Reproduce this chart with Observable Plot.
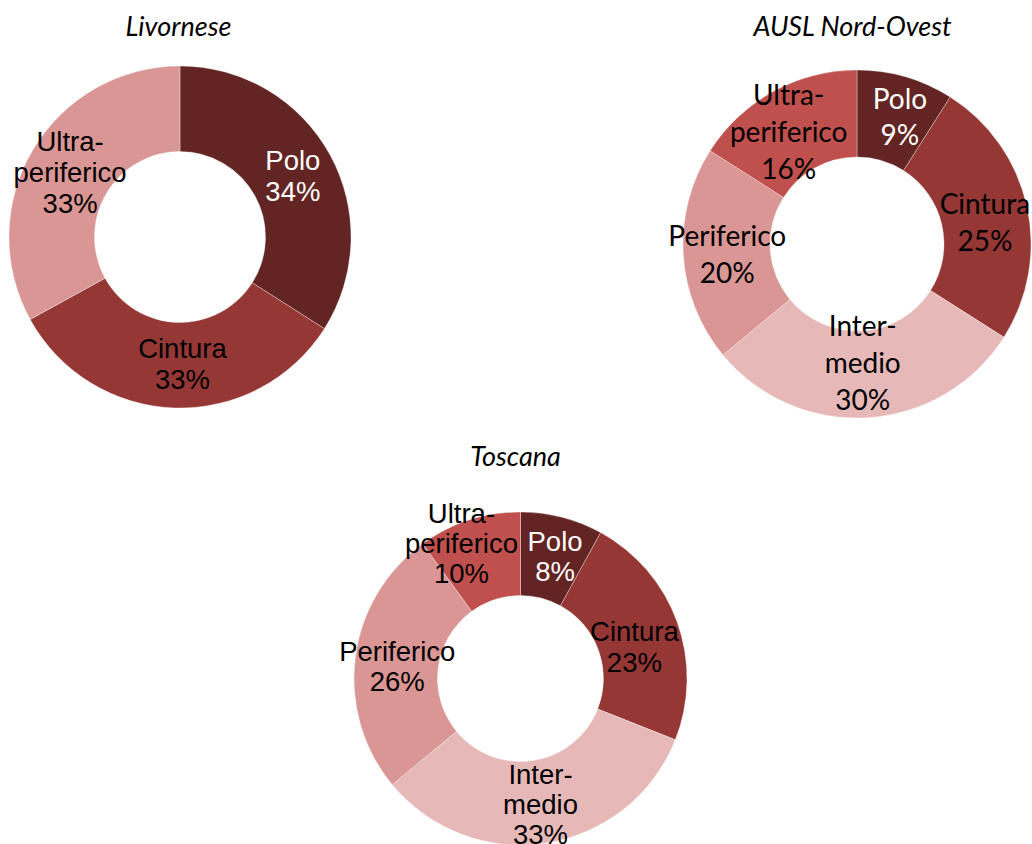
<!DOCTYPE html>
<html><head><meta charset="utf-8">
<script src="https://cdn.jsdelivr.net/npm/d3@7"></script>
<script src="https://cdn.jsdelivr.net/npm/@observablehq/plot@0.6"></script>
<style>body{margin:0;background:#fff}#chart svg{display:block}</style>
</head><body><div id="chart"></div>
<script>
// ---- data ----
const livorneseCategories = ["Polo", "Cintura", "Ultra-periferico"];
const livorneseValues = [34, 33, 33];
const auslCategories = ["Polo", "Cintura", "Intermedio", "Periferico", "Ultra-periferico"];
const auslValues = [9, 25, 30, 20, 16];
const toscanaCategories = ["Polo", "Cintura", "Intermedio", "Periferico", "Ultra-periferico"];
const toscanaValues = [8, 23, 33, 26, 10];
const labelNames = {
  "Polo": "Polo",
  "Cintura": "Cintura",
  "Intermedio": "Inter-\nmedio",
  "Periferico": "Periferico",
  "Ultra-periferico": "Ultra-\nperiferico"
};

// ---- styles ----
const palette = {Polo: "#632523", Cintura: "#953735", Intermedio: "#E6B9B8", Periferico: "#D99694", "Ultra-periferico": "#C0504D"};
const livornesePalette = {Polo: "#632523", Cintura: "#953735", "Ultra-periferico": "#D99694"};
const W = 1032, H = 844;

const charts = [
  {title: "Livornese", cats: livorneseCategories, vals: livorneseValues, pal: livornesePalette,
   cx: 180, cy: 237, ro: 171, ri: 85.5, font: "Liberation Sans, Arial, sans-serif", fs: 27.5, lh: 1.13, tx: 178, ty: 27,
   nudge: {"Cintura": [6, -2]}},
  {title: "AUSL Nord-Ovest", cats: auslCategories, vals: auslValues, pal: palette,
   cx: 857, cy: 244, ro: 174, ri: 87, font: "Lato, sans-serif", fs: 28, lh: 1.32, tx: 852, ty: 27,
   nudge: {"Polo": [6, -4], "Cintura": [0, 5], "Intermedio": [-3, -14], "Ultra-periferico": [-6, 0]}},
  {title: "Toscana", cats: toscanaCategories, vals: toscanaValues, pal: palette,
   cx: 520.5, cy: 678.5, ro: 166.5, ri: 83, font: "Liberation Sans, Arial, sans-serif", fs: 27.5, lh: 1.1, tx: 515, ty: 457,
   nudge: {"Polo": [3, -2], "Cintura": [-4, 10], "Intermedio": [0, 2], "Periferico": [0, 3], "Ultra-periferico": [-21, -17]}}
];

const pie = d3.pie().sort(null).value(d => d.value);
charts.forEach(c => {
  c.rows = c.cats.map((cat, i) => ({cat, value: c.vals[i]}));
  c.arcs = pie(c.rows);
  const rm = (c.ro + c.ri) / 2;
  c.labels = c.arcs.map(a => {
    const m = (a.startAngle + a.endAngle) / 2;
    const [nx, ny] = c.nudge[a.data.cat] || [0, 0];
    return {
      x: c.cx + rm * Math.sin(m) + nx,
      y: c.cy - rm * Math.cos(m) + ny,
      text: labelNames[a.data.cat] + "\n" + a.data.value + "%",
      color: a.data.cat === "Polo" ? "white" : "black"
    };
  });
});

function donutMark(c) {
  return (index, scales) => {
    const cx = scales.x(c.cx), cy = scales.y(c.cy);
    const k = Math.abs(scales.x(c.cx + 1) - scales.x(c.cx));
    const arc = d3.arc().innerRadius(c.ri * k).outerRadius(c.ro * k);
    const g = d3.create("svg:g").attr("transform", `translate(${cx},${cy})`);
    g.selectAll("path").data(c.arcs).join("path")
      .attr("d", arc)
      .attr("fill", d => c.pal[d.data.cat])
      .attr("stroke", "#ffffff")
      .attr("stroke-width", 0.6)
      .attr("stroke-opacity", 0.55);
    return g.node();
  };
}

const marks = [];
charts.forEach(c => {
  marks.push(donutMark(c));
  marks.push(Plot.text(c.labels, {
    x: "x", y: "y", text: "text", fill: "color",
    fontSize: c.fs, fontFamily: c.font, lineHeight: c.lh
  }));
  marks.push(Plot.text([c.title], {
    x: () => c.tx, y: () => c.ty, text: d => d,
    fontSize: 27, fontFamily: "Lato, sans-serif", fontStyle: "italic", fill: "black"
  }));
});

const plot = Plot.plot({
  width: W, height: H, margin: 0,
  style: {background: "#ffffff", overflow: "visible"},
  x: {domain: [0, W], range: [0, W], axis: null},
  y: {domain: [0, H], range: [0, H], axis: null},
  color: {type: "identity"},
  marks
});
document.getElementById("chart").appendChild(plot);
</script>
</body></html>
